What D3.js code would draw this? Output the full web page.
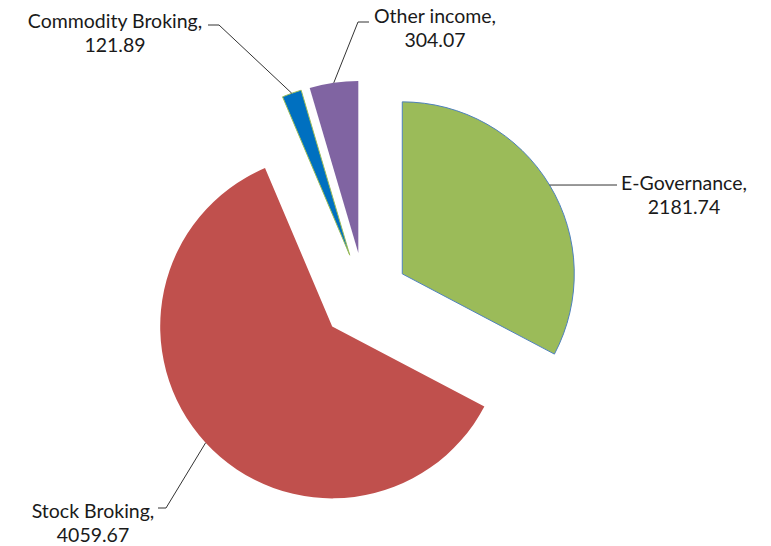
<!DOCTYPE html>
<html>
<head>
<meta charset="utf-8">
<script src="https://cdn.jsdelivr.net/npm/d3@7"></script>
<style>
  body { margin: 0; background: #fff; }
  .label { font-family: Lato, "Open Sans", sans-serif; font-size: 19.5px; fill: #1a1a1a; }
</style>
</head>
<body>
<svg width="771" height="546"></svg>
<script>
// Data
const names = ["E-Governance", "Stock Broking", "Commodity Broking", "Other income"];
const values = [2181.74, 4059.67, 121.89, 304.07];
const colors = ["#9bbb59", "#c0504d", "#0070c0", "#8064a2"];
const strokes = ["#4f81bd", "none", "#9bbb59", "none"];

// Label placement (label centre x, first baseline y, leader bend x/y, leader end x)
const labelPos = [
    { x: 684, y: 190, bx: 617, by: 185, ex: 617 },
    { x: 93,  y: 518, bx: 166, by: 508, ex: 158 },
    { x: 115, y: 28,  bx: 219, by: 25,  ex: 208 },
    { x: 435, y: 23,  bx: 358, by: 22,  ex: 369 }
];

const svg = d3.select("svg");

// centre of pie, radius and explode distance
const cx = 364.6, cy = 296.6;
const radius = 172;
const explode = 44;

const pie = d3.pie().sort(null).value(d => d.value);
const arc = d3.arc().innerRadius(0).outerRadius(radius);

const data = names.map((n, i) => ({ name: n, value: values[i], i: i }));
const arcs = pie(data);

// offset of each slice along its middle angle
function offset(d, dist) {
    const a = (d.startAngle + d.endAngle) / 2;
    return [Math.sin(a) * dist, -Math.cos(a) * dist];
}

const g = svg.append("g").attr("transform", `translate(${cx},${cy})`);

g.selectAll("path.slice")
    .data(arcs)
    .join("path")
    .attr("class", "slice")
    .attr("d", arc)
    .attr("transform", d => `translate(${offset(d, explode)})`)
    .attr("fill", d => colors[d.data.i])
    .attr("stroke", d => strokes[d.data.i])
    .attr("stroke-width", 1);

// Leader lines
g.selectAll("polyline")
    .data(arcs)
    .join("polyline")
    .attr("fill", "none")
    .attr("stroke", "#333")
    .attr("stroke-width", 1)
    .attr("points", d => {
        const o = offset(d, explode + radius);
        const p = labelPos[d.data.i];
        return [[o[0], o[1]], [p.bx - cx, p.by - cy], [p.ex - cx, p.by - cy]].join(" ");
    });

// Labels
const labels = svg.selectAll("text.label")
    .data(arcs)
    .join("text")
    .attr("class", "label")
    .attr("text-anchor", "middle")
    .attr("x", d => labelPos[d.data.i].x)
    .attr("y", d => labelPos[d.data.i].y);

labels.append("tspan")
    .attr("x", d => labelPos[d.data.i].x)
    .text(d => d.data.name + ",");

labels.append("tspan")
    .attr("x", d => labelPos[d.data.i].x)
    .attr("dy", 24)
    .text(d => d3.format(".2f")(d.data.value));
</script>
</body>
</html>
